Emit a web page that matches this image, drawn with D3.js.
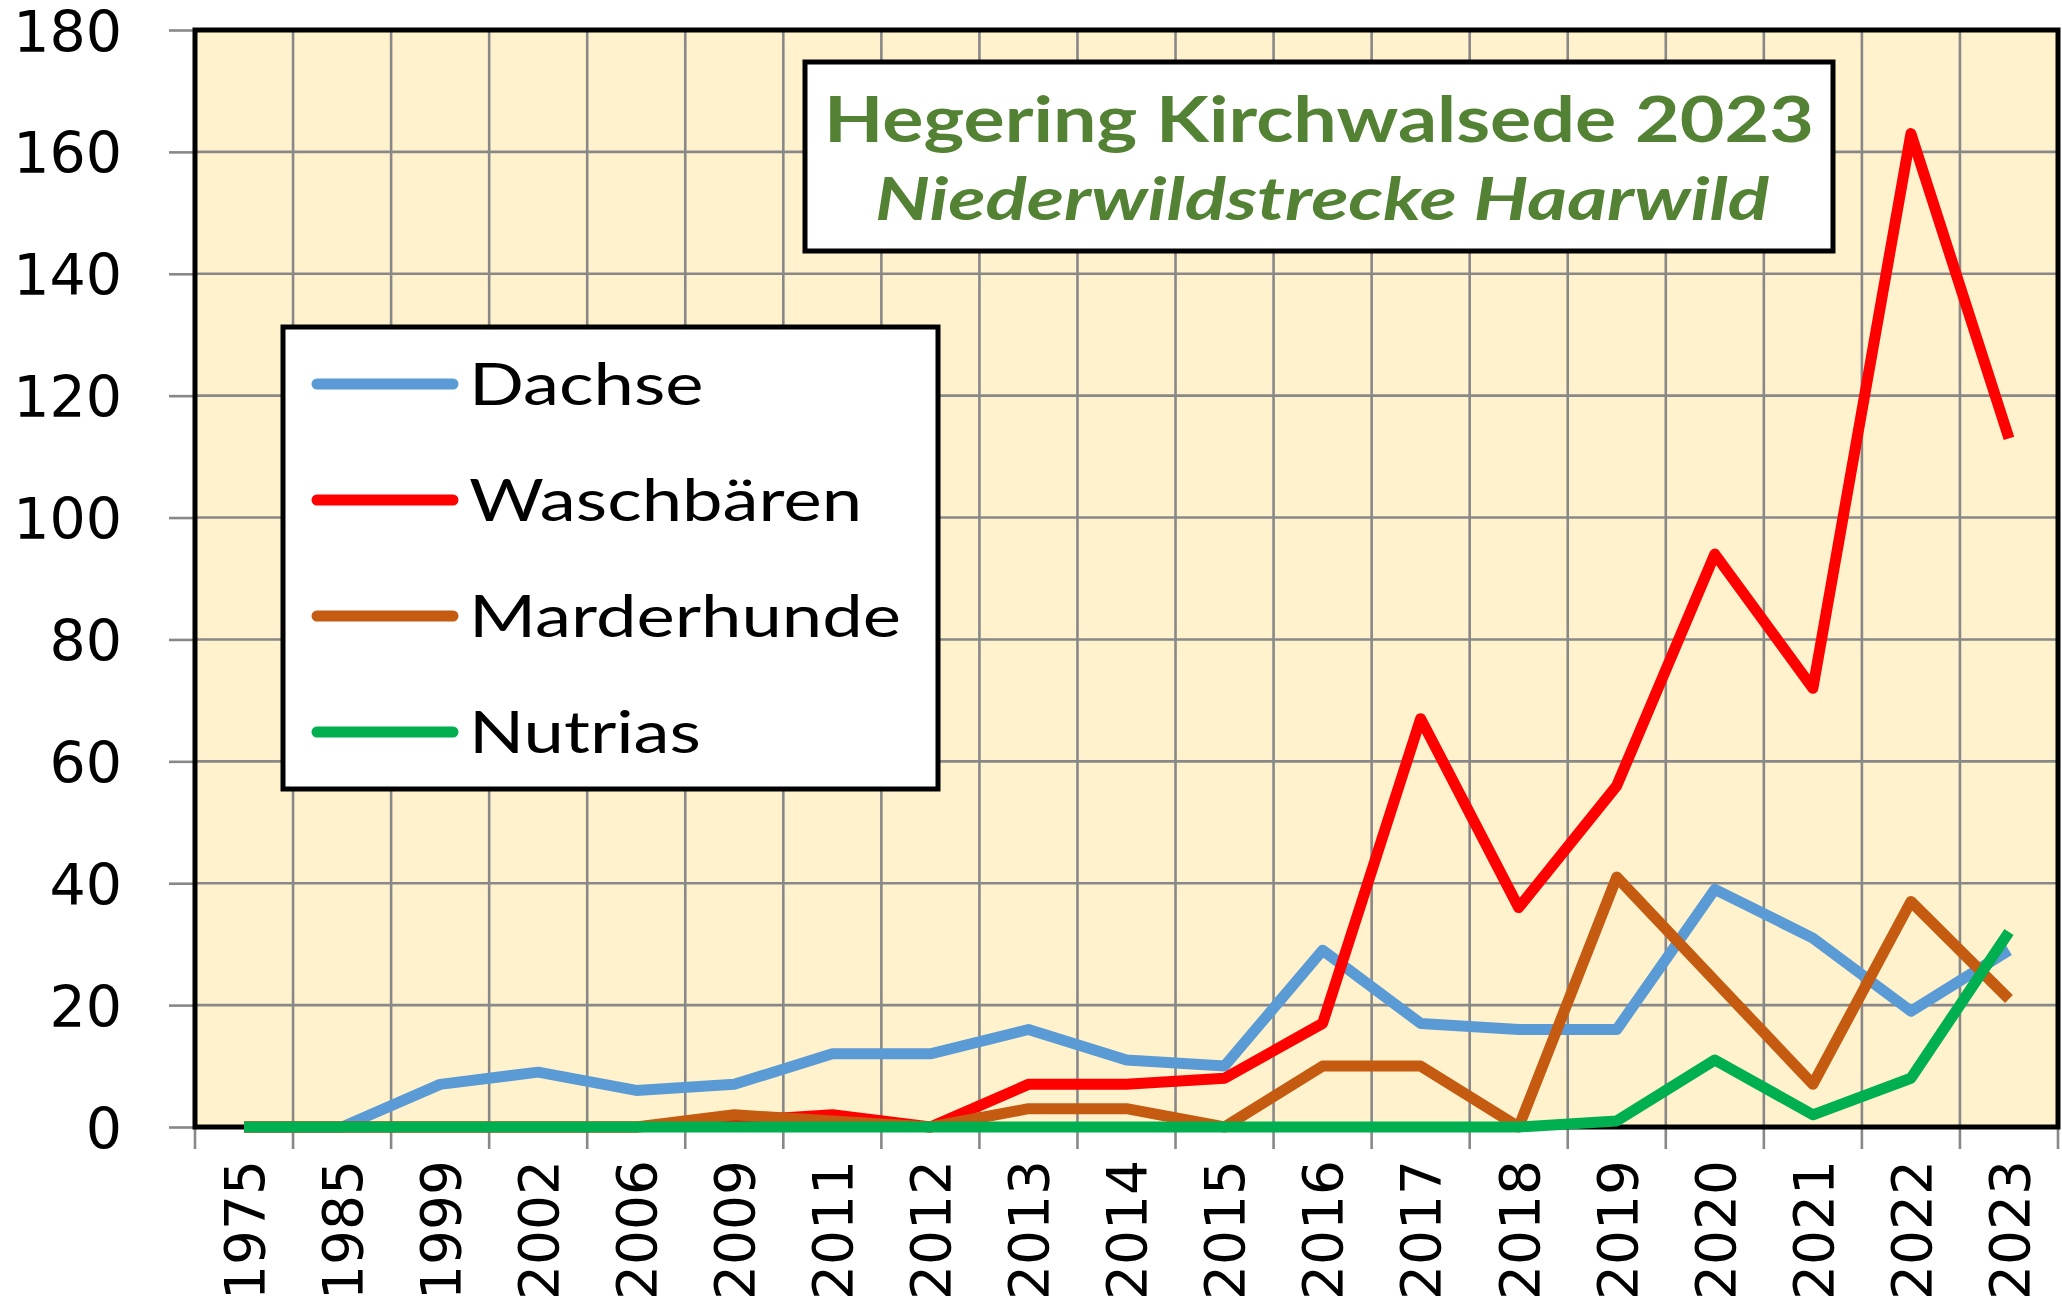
<!DOCTYPE html>
<html>
<head>
<meta charset="utf-8">
<script src="https://cdn.jsdelivr.net/npm/d3@7"></script>
<style>
  body { margin: 0; background: #fff; }
  svg { display: block; }
</style>
</head>
<body>
<div class="chart"></div>
<script>
// Niederwildstrecke Haarwild, Hegering Kirchwalsede

var years = ["1975", "1985", "1999", "2002", "2006", "2009", "2011", "2012", "2013", "2014",
  "2015", "2016", "2017", "2018", "2019", "2020", "2021", "2022", "2023"];

var dachse      = [0, 0, 7, 9, 6, 7, 12, 12, 16, 11, 10, 29, 17, 16, 16, 39, 31, 19, 29];
var waschbaeren = [0, 0, 0, 0, 0, 1, 2, 0, 7, 7, 8, 17, 67, 36, 56, 94, 72, 163, 113];
var marderhunde = [0, 0, 0, 0, 0, 2, 1, 0, 3, 3, 0, 10, 10, 0, 41, 24, 7, 37, 21];
var nutrias     = [0, 0, 0, 0, 0, 0, 0, 0, 0, 0, 0, 0, 0, 0, 1, 11, 2, 8, 32];

var seriesNames  = ["Dachse", "Waschbären", "Marderhunde", "Nutrias"];
var seriesColors = ["#5B9BD5", "#FF0000", "#C55A11", "#00B050"];
var yTicks = [0, 20, 40, 60, 80, 100, 120, 140, 160, 180];

var titleLine1 = "Hegering Kirchwalsede 2023";
var titleLine2 = "Niederwildstrecke Haarwild";

// sizes
var svgWidth = 2062;
var svgHeight = 1311;
var margin = { top: 30, right: 4, bottom: 184, left: 195 };
var chartWidth = svgWidth - margin.left - margin.right;
var chartHeight = svgHeight - margin.top - margin.bottom;

var svg = d3.select(".chart")
  .append("svg")
  .attr("width", svgWidth)
  .attr("height", svgHeight);

var g = svg.append("g")
  .attr("transform", "translate(" + margin.left + "," + margin.top + ")");

var x = d3.scaleBand().domain(years).range([0, chartWidth]).padding(0);
var y = d3.scaleLinear().domain([0, 180]).range([chartHeight, 0]);

// plot background
g.append("rect")
  .attr("width", chartWidth)
  .attr("height", chartHeight)
  .attr("fill", "#FFF2CC");

// horizontal gridlines
g.selectAll(".hgrid")
  .data(yTicks)
  .enter()
  .append("line")
  .attr("x1", 0)
  .attr("x2", chartWidth)
  .attr("y1", function(d) { return y(d); })
  .attr("y2", function(d) { return y(d); })
  .attr("stroke", "#888")
  .attr("stroke-width", 2.6);

// vertical gridlines + ticks at the category borders
var borders = years.map(function(d) { return x(d); }).concat([chartWidth]);
g.selectAll(".vgrid")
  .data(borders)
  .enter()
  .append("line")
  .attr("x1", function(d) { return d; })
  .attr("x2", function(d) { return d; })
  .attr("y1", 0)
  .attr("y2", chartHeight + 22)
  .attr("stroke", "#888")
  .attr("stroke-width", 2.6);

// y axis
var yAxis = g.append("g")
  .call(d3.axisLeft(y).tickValues(yTicks).tickSize(26).tickPadding(47));
yAxis.select(".domain").remove();
yAxis.selectAll(".tick line").attr("stroke", "#888").attr("stroke-width", 2.6);
yAxis.selectAll("text")
  .attr("font-family", "DejaVu Sans")
  .attr("font-size", 57)
  .attr("dy", "0.37em")
  .attr("fill", "#000");

// x axis labels (rotated)
var xAxis = g.append("g")
  .attr("transform", "translate(0," + chartHeight + ")")
  .call(d3.axisBottom(x).tickSize(0));
xAxis.select(".domain").remove();
xAxis.selectAll("text")
  .attr("font-family", "DejaVu Sans")
  .attr("font-size", 55)
  .attr("fill", "#000")
  .attr("transform", "rotate(-90)")
  .attr("text-anchor", "end")
  .attr("x", -33)
  .attr("y", 0)
  .attr("dy", "0.36em");

// black frame
g.append("rect")
  .attr("width", chartWidth)
  .attr("height", chartHeight)
  .attr("fill", "none")
  .attr("stroke", "#000")
  .attr("stroke-width", 5);

// lines
var allSeries = [dachse, waschbaeren, marderhunde, nutrias];
var line = d3.line()
  .x(function(d, i) { return x(years[i]) + x.bandwidth() / 2; })
  .y(function(d) { return y(d); });

g.selectAll(".series")
  .data(allSeries)
  .enter()
  .append("path")
  .attr("d", line)
  .attr("fill", "none")
  .attr("stroke", function(d, i) { return seriesColors[i]; })
  .attr("stroke-width", 11)
  .attr("stroke-linejoin", "round");

// legend
var legend = svg.append("g").attr("transform", "translate(283,327)");
legend.append("rect")
  .attr("width", 655)
  .attr("height", 462)
  .attr("fill", "#fff")
  .attr("stroke", "#000")
  .attr("stroke-width", 5);

var items = legend.selectAll(".item")
  .data(seriesNames)
  .enter()
  .append("g")
  .attr("transform", function(d, i) { return "translate(0," + (57 + i * 116) + ")"; });

items.append("line")
  .attr("x1", 34)
  .attr("x2", 170)
  .attr("stroke", function(d, i) { return seriesColors[i]; })
  .attr("stroke-width", 11)
  .attr("stroke-linecap", "round");

var labels = items.append("text")
  .attr("font-family", "Lato")
  .attr("font-size", 58)
  .attr("fill", "#000")
  .text(function(d) { return d; });

// stretch legend text to the width of the original
var widest = 0;
labels.each(function() { widest = Math.max(widest, this.getComputedTextLength()); });
var sx = 432 / widest;
labels.attr("transform", "translate(186,21) scale(" + sx + ",1)");

// title box
var title = svg.append("g").attr("transform", "translate(805,62)");
title.append("rect")
  .attr("width", 1028)
  .attr("height", 189)
  .attr("fill", "#fff")
  .attr("stroke", "#000")
  .attr("stroke-width", 5);

title.append("text")
  .attr("x", 514)
  .attr("y", 80)
  .attr("text-anchor", "middle")
  .attr("font-family", "Lato")
  .attr("font-weight", "bold")
  .attr("font-size", 64)
  .attr("fill", "#548235")
  .attr("textLength", 990)
  .attr("lengthAdjust", "spacingAndGlyphs")
  .text(titleLine1);

title.append("text")
  .attr("x", 517)
  .attr("y", 158)
  .attr("text-anchor", "middle")
  .attr("font-family", "Lato")
  .attr("font-weight", "bold")
  .attr("font-style", "italic")
  .attr("font-size", 60)
  .attr("fill", "#548235")
  .attr("textLength", 894)
  .attr("lengthAdjust", "spacingAndGlyphs")
  .text(titleLine2);
</script>
</body>
</html>
